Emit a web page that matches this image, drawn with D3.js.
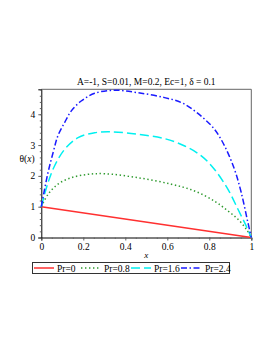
<!DOCTYPE html>
<html>
<head>
<meta charset="utf-8">
<script src="https://cdn.jsdelivr.net/npm/d3@7"></script>
<style>
  body { margin: 0; background: #fff; }
  text { font-family: "Liberation Serif", "DejaVu Serif", serif; }
</style>
</head>
<body>
<script>
// chart size and plot box
const width = 273;
const height = 353;
const margin = { top: 89.3, right: 21.7, bottom: 115.5, left: 41.3 };
const yTop = 4.81;

// data
const pr0x = [0, 1];
const pr0 = [1, 0];
const pr08x = [0, 0.032, 0.079, 0.143, 0.222, 0.302, 0.46, 0.619, 0.73, 0.825, 0.889, 0.937, 0.976, 1];
const pr08 = [1, 1.4, 1.73, 1.94, 2.05, 2.07, 1.94, 1.73, 1.51, 1.18, 0.86, 0.59, 0.27, 0];
const pr16x = [0, 0.032, 0.063, 0.111, 0.175, 0.254, 0.333, 0.46, 0.587, 0.683, 0.762, 0.825, 0.889, 0.937, 0.976, 1];
const pr16 = [1, 1.78, 2.32, 2.86, 3.24, 3.4, 3.43, 3.35, 3.21, 2.97, 2.65, 2.21, 1.56, 0.91, 0.37, 0];
const pr24x = [0, 0.03, 0.056, 0.079, 0.111, 0.143, 0.19, 0.254, 0.349, 0.46, 0.587, 0.667, 0.73, 0.778, 0.825, 0.873, 0.92, 0.952, 0.984, 1];
const pr24 = [1, 2.05, 2.75, 3.3, 3.73, 4.11, 4.43, 4.68, 4.78, 4.7, 4.54, 4.38, 4.11, 3.84, 3.51, 2.97, 2.21, 1.46, 0.48, 0];

const xTicks = [0, 0.2, 0.4, 0.6, 0.8, 1];
const yTicks = [0, 1, 2, 3, 4];
const legendLabels = ["Pr=0", "Pr=0.8", "Pr=1.6", "Pr=2.4"];

const series = [
  { xs: pr0x, ys: pr0, color: "#ff3030", dash: null },
  { xs: pr08x, ys: pr08, color: "#2e9a2e", dash: "1.4,2.6" },
  { xs: pr16x, ys: pr16, color: "#00f0f0", dash: "9,4" },
  { xs: pr24x, ys: pr24, color: "#1a1aff", dash: "6,2.5,1.5,2.5" }
];

const svg = d3.select("body").append("svg")
    .attr("width", width)
    .attr("height", height);

const x = d3.scaleLinear().domain([0, 1]).range([margin.left, width - margin.right]);
const y = d3.scaleLinear().domain([0, yTop]).range([height - margin.bottom, margin.top]);

// frame (top / right lighter)
svg.append("path")
    .attr("d", `M${x(0)},${y(yTop)}H${x(1)}V${y(0)}`)
    .attr("fill", "none")
    .attr("stroke", "#666")
    .attr("stroke-width", 1);

// axes
svg.append("g")
    .attr("transform", `translate(0,${y(0)})`)
    .call(d3.axisBottom(x).tickValues(xTicks).tickFormat(d3.format("")).tickSize(3));
svg.append("g")
    .attr("transform", `translate(0,${y(0)})`)
    .call(d3.axisBottom(x).ticks(20).tickFormat("").tickSize(1.5))
    .call(g => g.select(".domain").remove());
svg.append("g")
    .attr("transform", `translate(${x(0)},0)`)
    .call(d3.axisLeft(y).tickValues(yTicks).tickFormat(d3.format("d")).tickSize(3));
svg.append("g")
    .attr("transform", `translate(${x(0)},0)`)
    .call(d3.axisLeft(y).ticks(20).tickFormat("").tickSize(1.5))
    .call(g => g.select(".domain").remove());

svg.selectAll(".tick text")
    .attr("font-family", "Liberation Serif")
    .attr("font-size", 9.5)
    .attr("fill", "#000");
svg.selectAll(".domain").attr("stroke", "#000");
svg.selectAll(".tick line").attr("stroke", "#666");

// curves
const line = d3.line().curve(d3.curveCatmullRom);
series.forEach(s => {
  svg.append("path")
      .datum(s.xs.map((v, i) => [x(v), y(s.ys[i])]))
      .attr("d", line)
      .attr("fill", "none")
      .attr("stroke", s.color)
      .attr("stroke-width", 1.5)
      .attr("stroke-dasharray", s.dash);
});

// labels
svg.append("text")
    .attr("x", (x(0) + x(1)) / 2)
    .attr("y", 85)
    .attr("text-anchor", "middle")
    .attr("font-size", 9.5)
    .text("A=-1, S=0.01, M=0.2, Ec=1, \u03b4 = 0.1");

svg.append("text")
    .attr("x", 27)
    .attr("y", 162)
    .attr("text-anchor", "middle")
    .attr("font-size", 9.5)
    .html("\u03b8(<tspan font-style='italic'>x</tspan>)");

svg.append("text")
    .attr("x", (x(0) + x(1)) / 2)
    .attr("y", 258)
    .attr("text-anchor", "middle")
    .attr("font-size", 9)
    .attr("font-style", "italic")
    .text("x");

// legend
const legend = svg.append("g");
legend.append("rect")
    .attr("x", 32.5).attr("y", 262.5)
    .attr("width", 197).attr("height", 11)
    .attr("fill", "#fff")
    .attr("stroke", "#333")
    .attr("stroke-width", 1);
const legendX = [34, 81, 131, 181];
const legendW = [20, 20, 20, 21];
series.forEach((s, i) => {
  legend.append("line")
      .attr("x1", legendX[i]).attr("x2", legendX[i] + legendW[i])
      .attr("y1", 268).attr("y2", 268)
      .attr("stroke", s.color)
      .attr("stroke-width", 1.5)
      .attr("stroke-dasharray", s.dash);
  legend.append("text")
      .attr("x", legendX[i] + legendW[i] + 3)
      .attr("y", 271.5)
      .attr("font-size", 9.5)
      .text(legendLabels[i]);
});
</script>
</body>
</html>
